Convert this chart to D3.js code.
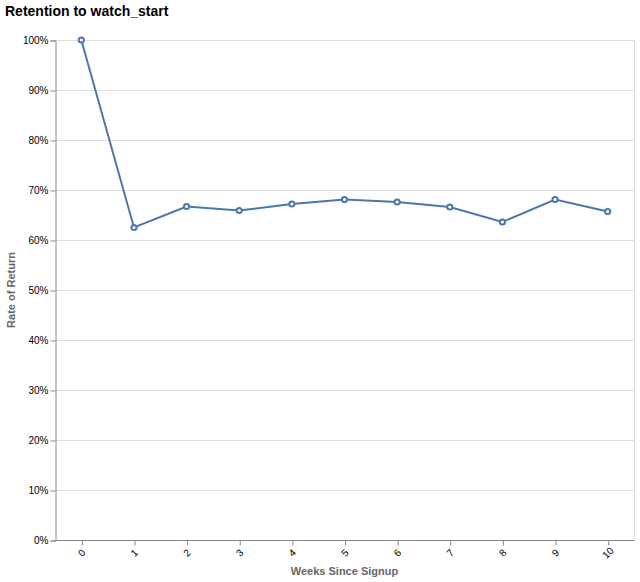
<!DOCTYPE html>
<html><head><meta charset="utf-8">
<script src="https://cdn.jsdelivr.net/npm/d3@7"></script>
<style>body{margin:0;background:#fff}svg{display:block}text{font-family:"Liberation Sans",Arial,sans-serif}</style>
</head><body><svg id="c" width="640" height="582"></svg>
<script>
const weeks = [0,1,2,3,4,5,6,7,8,9,10];
const rates = [1.0,0.625,0.667,0.659,0.672,0.681,0.676,0.666,0.636,0.681,0.657];
const yTicks = [0,0.1,0.2,0.3,0.4,0.5,0.6,0.7,0.8,0.9,1.0];

const svg = d3.select("#c");
const L=55,R=634,T=40,B=540;
const FF = '"Liberation Sans",Arial,sans-serif';
const x = d3.scalePoint().domain(weeks).range([L,R]).padding(0.5);
const y = d3.scaleLinear().domain([0,1]).range([B,T]);

svg.append("text").attr("x",5).attr("y",16).attr("font-size",14).attr("font-weight","bold").attr("fill","#000").text("Retention to watch_start");

// grid
svg.append("g").selectAll("line").data(yTicks).join("line")
  .attr("x1",L).attr("x2",R).attr("y1",d=>y(d)+0.5).attr("y2",d=>y(d)+0.5).attr("stroke","#ddd");
svg.append("line").attr("x1",R+0.5).attr("x2",R+0.5).attr("y1",T).attr("y2",B).attr("stroke","#ddd");

// y axis
const ya = svg.append("g").attr("transform",`translate(${L+0.5},0.5)`)
  .call(d3.axisLeft(y).tickValues(yTicks).tickFormat(d3.format(".0%")).tickSize(5).tickPadding(2));
ya.select(".domain").attr("stroke","#888");
ya.selectAll(".tick line").attr("stroke","#888");
ya.selectAll("text").attr("font-size",10).attr("fill","#000").style("font-family",FF);

// x axis
const xa = svg.append("g").attr("transform",`translate(0.5,${B+0.5})`)
  .call(d3.axisBottom(x).tickSize(5).tickSizeOuter(0));
xa.select(".domain").attr("stroke","#888").attr("d",`M${L},0H${R}`);
xa.selectAll(".tick line").attr("stroke","#888");
xa.selectAll("text").attr("font-size",10).attr("fill","#000").style("font-family",FF)
  .attr("text-anchor","middle").attr("dy",null).attr("y",null)
  .attr("transform","translate(0,13) rotate(-45)").attr("dominant-baseline","middle");

svg.append("text").attr("x",(L+R)/2).attr("y",575).attr("text-anchor","middle").attr("font-size",11).attr("font-weight","bold").attr("fill","#666").text("Weeks Since Signup");
svg.append("text").attr("transform",`translate(15,${(T+B)/2}) rotate(-90)`).attr("text-anchor","middle").attr("font-size",11).attr("font-weight","bold").attr("fill","#666").text("Rate of Return");

const pts = weeks.map((w,i)=>({w,r:rates[i]}));
svg.append("path").datum(pts).attr("fill","none").attr("stroke","#4c78a8").attr("stroke-width",2)
  .attr("d",d3.line().x(d=>x(d.w)).y(d=>y(d.r)));
svg.append("g").selectAll("circle").data(pts).join("circle")
  .attr("cx",d=>x(d.w)).attr("cy",d=>y(d.r)).attr("r",2.6)
  .attr("fill","#fff").attr("stroke","#4c78a8").attr("stroke-width",2);
</script></body></html>
